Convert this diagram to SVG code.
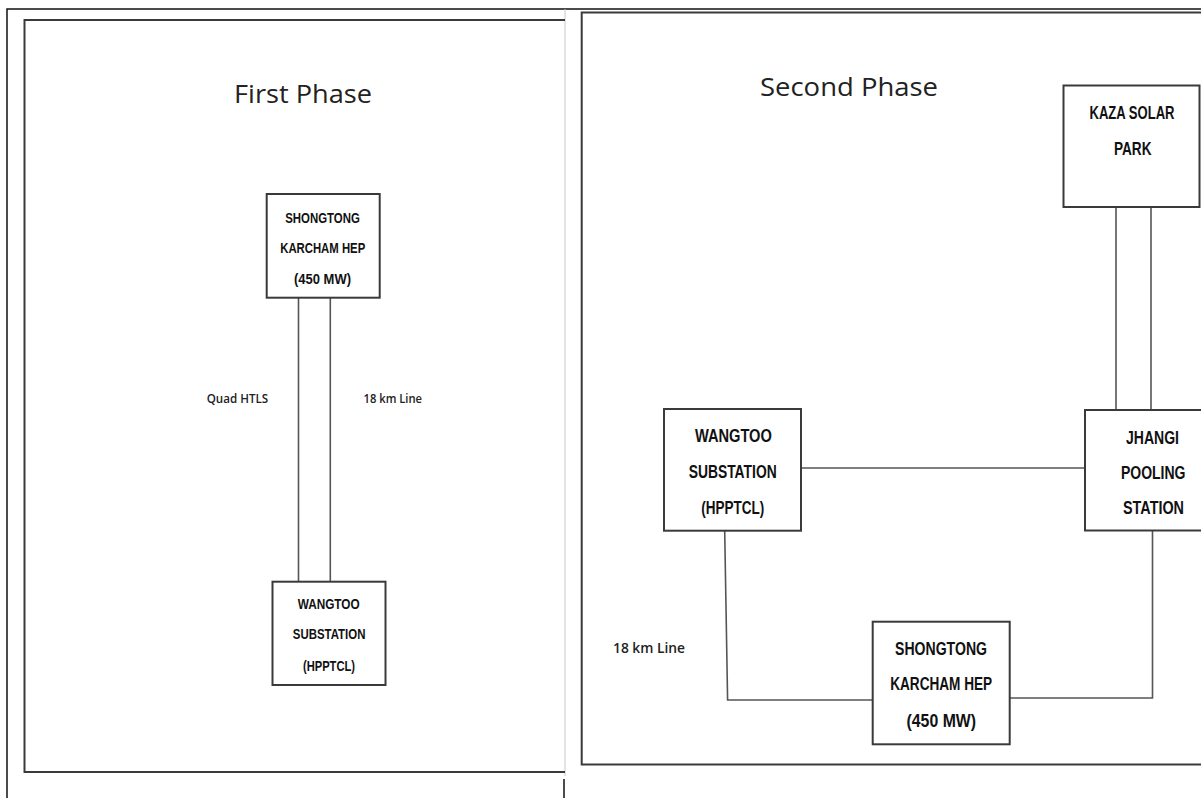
<svg xmlns="http://www.w3.org/2000/svg" width="1201" height="798" viewBox="0 0 1201 798">
<style>
.frame{fill:none;stroke:#111;stroke-width:1.5}
.panel{fill:none;stroke:#3a3a3a;stroke-width:2}
.box{fill:#fff;stroke:#3a3a3a;stroke-width:2}
.conn{fill:none;stroke:#555;stroke-width:1.6}
.bt{font-family:"Liberation Sans",Arial,sans-serif;font-weight:bold;fill:#111;text-anchor:middle}
.title{font-family:"Open Sans","Noto Sans","Liberation Sans",sans-serif;fill:#222}
.lbl{font-family:"Open Sans","Liberation Sans",sans-serif;fill:#222;font-weight:600}
</style>
<rect x="0" y="0" width="1201" height="798" fill="#fff"/>
<g id="frame">
<path class="frame" d="M7,798 V9 H1201"/>
<line x1="565" y1="9" x2="565" y2="776" stroke="#c8c8c8" stroke-width="1"/>
<line x1="564" y1="779" x2="564" y2="798" stroke="#111" stroke-width="1.5"/>
<path class="panel" d="M565,20 H24.5 V772 H565"/>
<path class="panel" d="M1203,12.5 H581.7 V764.5 H1203"/>
</g>
<g id="titles">
<text class="title" x="234" y="103" font-size="26" textLength="138" lengthAdjust="spacingAndGlyphs">First Phase</text>
<text class="title" x="760" y="96" font-size="26" textLength="178" lengthAdjust="spacingAndGlyphs">Second Phase</text>
</g>
<g id="connectors">
<line class="conn" x1="298.5" y1="298" x2="298.5" y2="582"/>
<line class="conn" x1="330.3" y1="298" x2="330.3" y2="582"/>
<line class="conn" x1="1116" y1="207" x2="1116" y2="410"/>
<line class="conn" x1="1151" y1="207" x2="1151" y2="410"/>
<line class="conn" x1="801" y1="468" x2="1085" y2="468"/>
<path class="conn" d="M724.7,531 L727.6,700 H872.7"/>
<path class="conn" d="M1009.7,698 H1152.5 V531"/>
</g>
<g id="labels">
<text class="lbl" x="206.7" y="403" font-size="12" textLength="61.5" lengthAdjust="spacingAndGlyphs">Quad HTLS</text>
<text class="lbl" x="363.5" y="403" font-size="12" textLength="58.5" lengthAdjust="spacingAndGlyphs">18 km Line</text>
<text class="lbl" x="613" y="653" font-size="15" textLength="72" lengthAdjust="spacingAndGlyphs">18 km Line</text>
</g>
<g id="p1-shongtong">
<rect class="box" x="266.7" y="194" width="113" height="103.7"/>
<text class="bt" x="322.5" y="222.5" font-size="15" textLength="74.6" lengthAdjust="spacingAndGlyphs">SHONGTONG</text>
<text class="bt" x="322.7" y="252.5" font-size="15" textLength="85" lengthAdjust="spacingAndGlyphs">KARCHAM HEP</text>
<text class="bt" x="322.5" y="283.5" font-size="15" textLength="57" lengthAdjust="spacingAndGlyphs">(450 MW)</text>
</g>
<g id="p1-wangtoo">
<rect class="box" x="272.5" y="581.7" width="113" height="103.3"/>
<text class="bt" x="328.7" y="609" font-size="15" textLength="62" lengthAdjust="spacingAndGlyphs">WANGTOO</text>
<text class="bt" x="329.1" y="639" font-size="15" textLength="72.7" lengthAdjust="spacingAndGlyphs">SUBSTATION</text>
<text class="bt" x="329" y="670.5" font-size="15" textLength="52" lengthAdjust="spacingAndGlyphs">(HPPTCL)</text>
</g>
<g id="p2-kaza">
<rect class="box" x="1063.5" y="85.5" width="136" height="121.5"/>
<text class="bt" x="1132" y="119" font-size="18" textLength="85" lengthAdjust="spacingAndGlyphs">KAZA SOLAR</text>
<text class="bt" x="1132.7" y="155" font-size="18" textLength="37.6" lengthAdjust="spacingAndGlyphs">PARK</text>
</g>
<g id="p2-wangtoo">
<rect class="box" x="664" y="409" width="137" height="121.7"/>
<text class="bt" x="733.4" y="441.5" font-size="18" textLength="77" lengthAdjust="spacingAndGlyphs">WANGTOO</text>
<text class="bt" x="732.7" y="477.5" font-size="18" textLength="88" lengthAdjust="spacingAndGlyphs">SUBSTATION</text>
<text class="bt" x="732.7" y="513.5" font-size="18" textLength="63" lengthAdjust="spacingAndGlyphs">(HPPTCL)</text>
</g>
<g id="p2-jhangi">
<rect class="box" x="1085" y="410" width="120" height="120.5"/>
<text class="bt" x="1152.5" y="443.5" font-size="18" textLength="53" lengthAdjust="spacingAndGlyphs">JHANGI</text>
<text class="bt" x="1153.2" y="478.5" font-size="18" textLength="64.6" lengthAdjust="spacingAndGlyphs">POOLING</text>
<text class="bt" x="1153.5" y="513.5" font-size="18" textLength="61" lengthAdjust="spacingAndGlyphs">STATION</text>
</g>
<g id="p2-shongtong">
<rect class="box" x="872.7" y="621.7" width="137" height="122.6"/>
<text class="bt" x="941" y="654.5" font-size="18" textLength="92" lengthAdjust="spacingAndGlyphs">SHONGTONG</text>
<text class="bt" x="941.2" y="689.5" font-size="18" textLength="102" lengthAdjust="spacingAndGlyphs">KARCHAM HEP</text>
<text class="bt" x="941.3" y="726.5" font-size="18" textLength="69.5" lengthAdjust="spacingAndGlyphs">(450 MW)</text>
</g>
</svg>
